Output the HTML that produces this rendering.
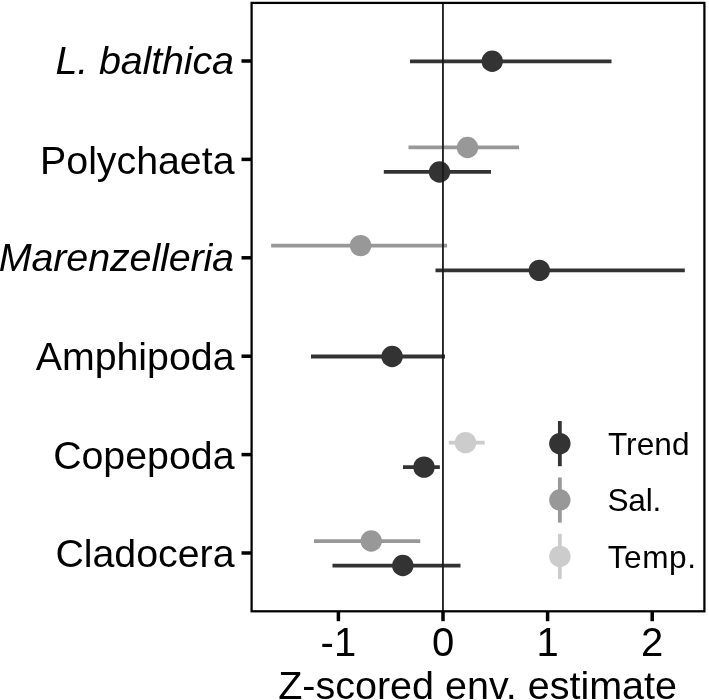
<!DOCTYPE html><html><head><meta charset="utf-8"><title>plot</title><style>html,body{margin:0;padding:0;background:#fff}svg{display:block}text{font-family:"Liberation Sans",Arial,sans-serif;fill:#000}</style></head><body>
<svg width="709" height="700" viewBox="0 0 709 700">
<rect width="709" height="700" fill="#fff"/>
<line x1="410" y1="61.3" x2="611.5" y2="61.3" stroke="#333333" stroke-width="3.8"/>
<circle cx="492.2" cy="61.3" r="10.7" fill="#333333"/>
<line x1="408.5" y1="147.45" x2="519" y2="147.45" stroke="#989898" stroke-width="3.8"/>
<circle cx="467.5" cy="147.45" r="10.7" fill="#989898"/>
<line x1="383.8" y1="171.95" x2="491" y2="171.95" stroke="#333333" stroke-width="3.8"/>
<circle cx="439.5" cy="171.95" r="10.7" fill="#333333"/>
<line x1="271.1" y1="245.60000000000002" x2="447.1" y2="245.60000000000002" stroke="#989898" stroke-width="3.8"/>
<circle cx="360.6" cy="245.60000000000002" r="10.7" fill="#989898"/>
<line x1="435.5" y1="270.35" x2="684.8" y2="270.35" stroke="#333333" stroke-width="3.8"/>
<circle cx="539.3" cy="270.35" r="10.7" fill="#333333"/>
<line x1="311" y1="356.50000000000006" x2="445" y2="356.50000000000006" stroke="#333333" stroke-width="3.8"/>
<circle cx="392.1" cy="356.50000000000006" r="10.7" fill="#333333"/>
<line x1="448.8" y1="442.65000000000003" x2="484.7" y2="442.65000000000003" stroke="#cccccc" stroke-width="3.8"/>
<circle cx="465.5" cy="442.65000000000003" r="10.7" fill="#cccccc"/>
<line x1="403" y1="467.15000000000003" x2="439.85" y2="467.15000000000003" stroke="#333333" stroke-width="3.8"/>
<circle cx="424" cy="467.15000000000003" r="10.7" fill="#333333"/>
<line x1="314" y1="541.05" x2="420.25" y2="541.05" stroke="#989898" stroke-width="3.8"/>
<circle cx="371.2" cy="541.05" r="10.7" fill="#989898"/>
<line x1="332.5" y1="565.55" x2="460.5" y2="565.55" stroke="#333333" stroke-width="3.8"/>
<circle cx="402.8" cy="565.55" r="10.7" fill="#333333"/>
<line x1="442.95" y1="3" x2="442.95" y2="611" stroke="#1a1a1a" stroke-width="1.8"/>
<rect x="251.6" y="2.9" width="452.8" height="608.4" fill="none" stroke="#000" stroke-width="2.25"/>
<line x1="241.5" y1="61.0" x2="251.6" y2="61.0" stroke="#000" stroke-width="3.5"/>
<text x="233.9" y="74.45" font-size="39.5" letter-spacing="-0.15" text-anchor="end" font-style="italic">L. balthica</text>
<line x1="241.5" y1="159.4" x2="251.6" y2="159.4" stroke="#000" stroke-width="3.5"/>
<text x="234.5" y="173.60" font-size="39.3" text-anchor="end">Polychaeta</text>
<line x1="241.5" y1="257.8" x2="251.6" y2="257.8" stroke="#000" stroke-width="3.5"/>
<text x="233.9" y="271.25" font-size="39.5" letter-spacing="-0.15" text-anchor="end" font-style="italic">Marenzelleria</text>
<line x1="241.5" y1="356.20000000000005" x2="251.6" y2="356.20000000000005" stroke="#000" stroke-width="3.5"/>
<text x="234.5" y="370.40" font-size="39.3" text-anchor="end">Amphipoda</text>
<line x1="241.5" y1="454.6" x2="251.6" y2="454.6" stroke="#000" stroke-width="3.5"/>
<text x="234.5" y="468.80" font-size="39.3" text-anchor="end">Copepoda</text>
<line x1="241.5" y1="553.0" x2="251.6" y2="553.0" stroke="#000" stroke-width="3.5"/>
<text x="234.5" y="567.20" font-size="39.3" text-anchor="end">Cladocera</text>
<line x1="338.4" y1="611.3" x2="338.4" y2="621.2" stroke="#000" stroke-width="3.5"/>
<text x="338.4" y="656.1" font-size="40" text-anchor="middle">-1</text>
<line x1="443.0" y1="611.3" x2="443.0" y2="621.2" stroke="#000" stroke-width="3.5"/>
<text x="443.0" y="656.1" font-size="40" text-anchor="middle">0</text>
<line x1="547.6" y1="611.3" x2="547.6" y2="621.2" stroke="#000" stroke-width="3.5"/>
<text x="547.6" y="656.1" font-size="40" text-anchor="middle">1</text>
<line x1="652.2" y1="611.3" x2="652.2" y2="621.2" stroke="#000" stroke-width="3.5"/>
<text x="652.2" y="656.1" font-size="40" text-anchor="middle">2</text>
<text x="477.6" y="699.0" font-size="39.5" text-anchor="middle">Z-scored env. estimate</text>
<line x1="559.85" y1="421.00" x2="559.85" y2="466.20" stroke="#333333" stroke-width="3.8"/>
<circle cx="559.85" cy="443.6" r="10.7" fill="#333333"/>
<text x="607.9" y="454.65" font-size="31.6" letter-spacing="0.05">Trend</text>
<line x1="559.85" y1="477.45" x2="559.85" y2="522.65" stroke="#989898" stroke-width="3.8"/>
<circle cx="559.85" cy="500.05" r="10.7" fill="#989898"/>
<text x="607.4" y="510.75" font-size="31.6" letter-spacing="-0.15">Sal.</text>
<line x1="559.85" y1="533.80" x2="559.85" y2="579.00" stroke="#cccccc" stroke-width="3.8"/>
<circle cx="559.85" cy="556.4" r="10.7" fill="#cccccc"/>
<text x="607.7" y="567.65" font-size="31.6" letter-spacing="0.55">Temp.</text>
</svg></body></html>
